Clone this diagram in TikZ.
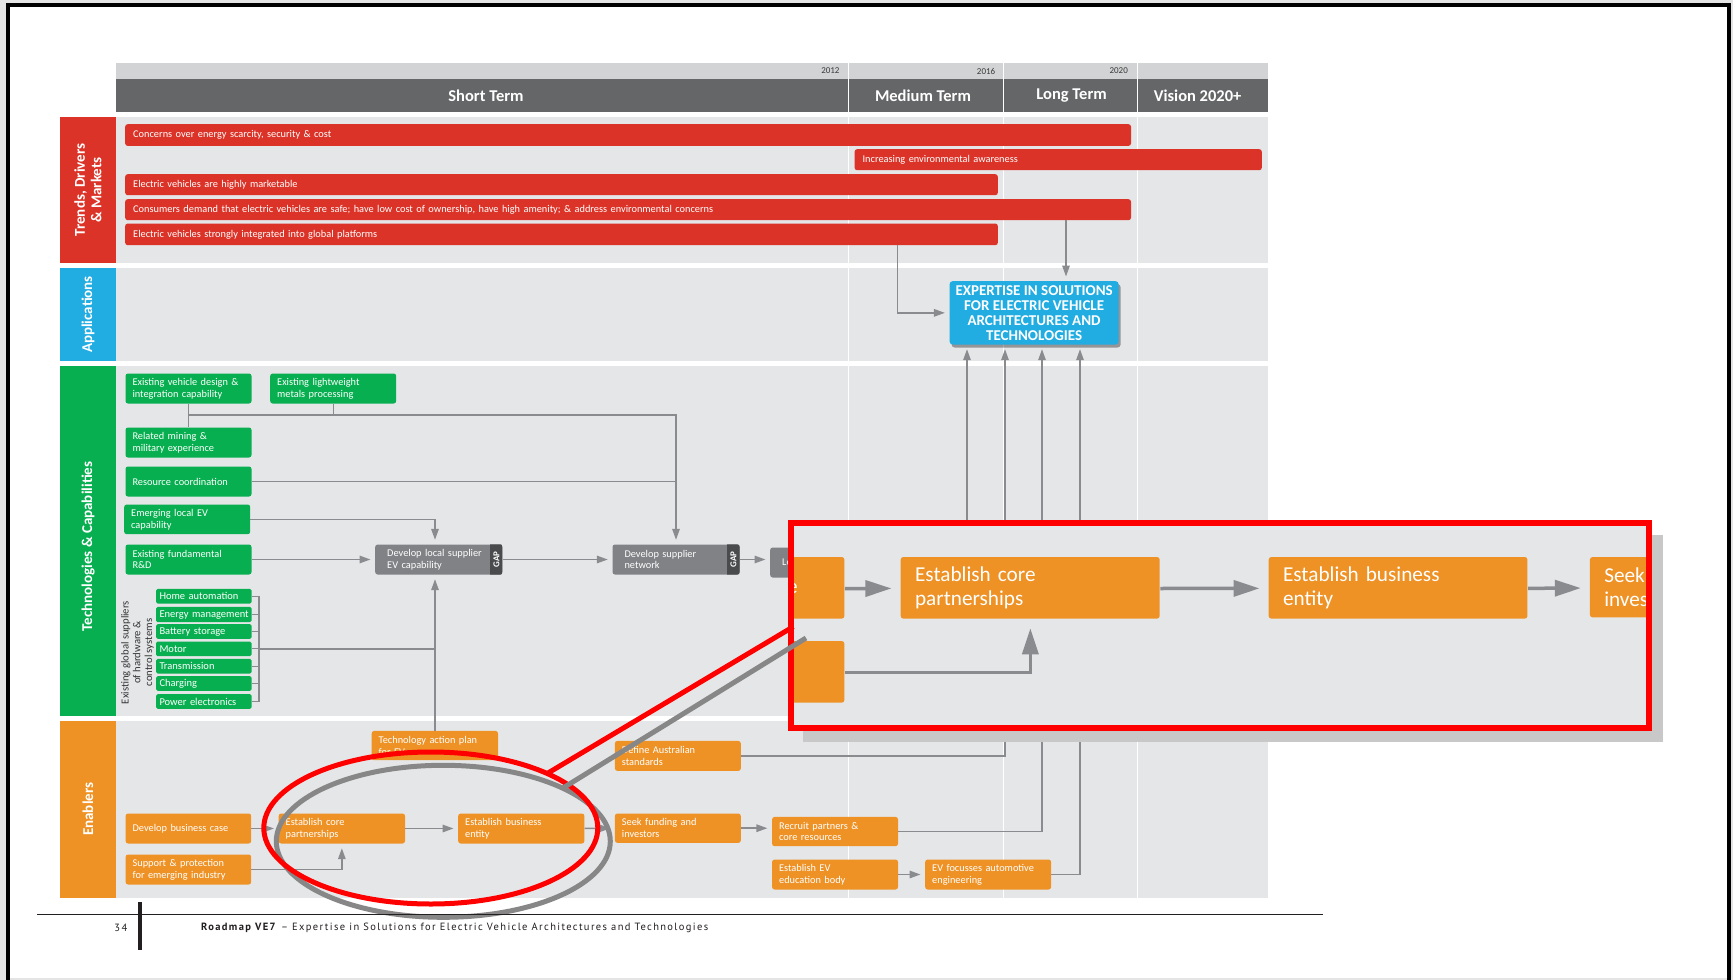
\documentclass[tikz,border=0pt]{standalone}
\usepackage{fontspec}
\setmainfont{Carlito}
\newfontfamily\footfont[LetterSpace=13]{PT Sans}
\usetikzlibrary{arrows.meta,calc,shadows}
\definecolor{lanebg}{HTML}{E5E6E8}
\definecolor{hdrlight}{HTML}{D1D3D4}
\definecolor{hdrdark}{HTML}{656668}
\definecolor{cred}{HTML}{DC3328}
\definecolor{cblue}{HTML}{21ACE2}
\definecolor{cgreen}{HTML}{07AF50}
\definecolor{corange}{HTML}{EE9226}
\definecolor{cgray}{HTML}{808285}
\definecolor{cgap}{HTML}{4A4B4D}
\definecolor{cline}{HTML}{898B8E}
\definecolor{cshadow}{HTML}{C8C8C8}
\definecolor{outerg}{HTML}{E4E4E4}
\definecolor{yrc}{HTML}{3A3A3A}
\definecolor{footc}{HTML}{231F20}
\definecolor{grayell}{HTML}{878787}
\definecolor{txtdark}{HTML}{333333}
\newcommand\myfs[2]{\fontsize{#1}{#2}\selectfont}
\def\mbxs{7}
\newcommand\mkbox[7]{%
  \pgfmathsetmacro\mbtw{#5-2*\mbxs}%
  \node[#2, anchor=north west, minimum width=#5pt, minimum height=#6pt, text width=\mbtw pt, inner xsep=\mbxs pt] (#1) at (#3,#4) {#7};}
\newcommand\gapstrip[1]{%
  \begin{scope}
    \clip[rounded corners=2.5pt] (#1.north west) rectangle (#1.south east);
    \fill[cgap] ($(#1.north east)+(-12.3,0)$) rectangle (#1.south east);
  \end{scope}
  \node[rotate=90, text=white, font=\bfseries\myfs{9}{10}, inner sep=0pt] (#1-gap) at ($(#1.east)+(-6.15,0)$) {GAP};}
\newcommand\enablersrow{%
  \mkbox{bc}{obox}{125.4}{813.3}{125.6}{30}{Develop business case}%
  \mkbox{sp}{obox}{125.4}{854.3}{125.6}{30}{Support \& protection\\for emerging industry}%
  \mkbox{cp}{obox}{278.5}{813.3}{126.3}{30}{Establish core\\partnerships}%
  \mkbox{be}{obox}{458}{813.3}{126.2}{30}{Establish business\\entity}%
  \mkbox{sf}{obox}{614.7}{813.3}{125.9}{29.4}{Seek funding and\\investors}%
  \draw[arr] (bc) -- (cp);
  \draw[arr] (cp) -- (be);
  \draw[arr] (be) -- (sf);
  \draw[arr] (sp.east) -| (cp.south);
}
\begin{document}
\begin{tikzpicture}[x=1pt,y=-1pt,
  bx/.style={rectangle, rounded corners=2.5pt, inner ysep=0pt, align=left, text=white, font=\myfs{10.35}{11.8}},
  obox/.style={bx, fill=corange},
  gbox/.style={bx, fill=cgreen},
  rbar/.style={bx, fill=cred},
  gybox/.style={bx, fill=cgray},
  hwbox/.style={bx, fill=cgreen, font=\myfs{10.5}{12}, rounded corners=1.5pt},
  conn/.style={draw=cline, line width=1.5pt},
  arr/.style={conn, -{Triangle[length=11pt,width=7.5pt]}, shorten >=4.5pt},
  lblbox/.style={rotate=90, text=white, align=center, inner sep=0pt, font=\bfseries\myfs{15}{16.5}},
  hdr/.style={text=white, font=\bfseries\myfs{16.5}{18}},
  yr/.style={text=yrc, font=\myfs{9}{10}, anchor=east, inner sep=0pt},
  bluebox/.style={anchor=north west, fill=cblue, rounded corners=3pt, minimum width=169pt, minimum height=63.3pt, text=white, align=center, font=\bfseries\myfs{15}{15}, inner sep=1pt, drop shadow={shadow xshift=2pt, shadow yshift=-3pt, opacity=0.35, fill=black}}
]
\useasboundingbox (0,0) rectangle (1733,980);
% page and frame
\fill[outerg] (0,0) rectangle (1733,980);
\fill[white] (7.7,5.3) rectangle (1729,978);
\draw[black, line width=4pt] (7.7,980) -- (7.7,5.3) -- (1729,5.3) -- (1729,980);

% header
\fill[hdrlight] (116,62.7) rectangle (1268,79);
\fill[hdrdark] (116,79) rectangle (1268,112.3);
% lanes
\fill[lanebg] (116,116.7) rectangle (1268,263.3);
\fill[lanebg] (116,268.3) rectangle (1268,360.7);
\fill[lanebg] (116,366) rectangle (1268,716);
\fill[lanebg] (116,720.7) rectangle (1268,897.7);
\foreach \xx in {848.4,1003.6,1137.2} \draw[white, line width=1.2pt] (\xx,62.7) -- (\xx,897.7);

% lane labels
\node[lblbox, fill=cred, minimum width=146.6pt, minimum height=56pt] (lTr) at (88,190) {Trends, Drivers\\\& Markets};
\node[lblbox, fill=cblue, minimum width=92.4pt, minimum height=56pt] (lAp) at (88,314.5) {Applications};
\node[lblbox, fill=cgreen, minimum width=350pt, minimum height=56pt] (lTe) at (88,541) {};
\node[lblbox] (lTeT) at (88,546.5) {Technologies \& Capabilities};
\node[lblbox, fill=corange, minimum width=177pt, minimum height=56pt] (lEn) at (88,809.2) {Enablers};

% header texts
\node[hdr] (hS) at (486,96) {Short Term};
\node[hdr] (hM) at (923,96) {Medium Term};
\node[hdr] (hL) at (1071.6,96) {Long Term};
\node[hdr] (hV) at (1197.6,96) {Vision 2020+};
\node[yr] (y12) at (839.7,71) {2012};
\node[yr] (y16) at (995.4,71) {2016};
\node[yr] (y20) at (1128,71) {2020};

% trends bars
\def\mbxs{8}
\mkbox{r1}{rbar}{125}{124}{1005.8}{21.7}{Concerns over energy scarcity, security \& cost}
\mkbox{r2}{rbar}{854.4}{149}{407.2}{21}{Increasing environmental awareness}
\mkbox{r3}{rbar}{125}{174}{872.6}{21}{Electric vehicles are highly marketable}
\mkbox{r4}{rbar}{125}{199}{1005.8}{21}{Consumers demand that electric vehicles are safe; have low cost of ownership, have high amenity; \& address environmental concerns}
\mkbox{r5}{rbar}{125}{223.3}{872.6}{21.7}{Electric vehicles strongly integrated into global platforms}
\def\mbxs{7}

% application
\node[bluebox] (exp) at (949.4,281) {EXPERTISE IN SOLUTIONS\\FOR ELECTRIC VEHICLE\\ARCHITECTURES AND\\TECHNOLOGIES};
\coordinate (xT) at (897.6,0);
\coordinate (xU) at (1066,0);
\draw[arr] (r5.south -| xT) |- (exp.west);
\draw[arr] (r4.south -| xU) -- (exp.north -| xU);

% technologies
\mkbox{vd}{gbox}{125.3}{373.3}{126}{30}{Existing vehicle design \&\\integration capability}
\mkbox{lw}{gbox}{270}{373.3}{126}{30}{Existing lightweight\\metals processing}
\mkbox{rm}{gbox}{125.3}{427.3}{126}{30}{Related mining \&\\military experience}
\mkbox{rc}{gbox}{125.3}{466.3}{126}{30}{Resource coordination}
\mkbox{el}{gbox}{124}{504.3}{126}{29.7}{Emerging local EV\\capability}
\mkbox{rd}{gbox}{125.3}{544.3}{126}{30}{Existing fundamental\\R\&D}
\def\mbxs{3.3}
\mkbox{ha}{hwbox}{156}{588.7}{95.3}{14.6}{\mbox{Home automation}}
\mkbox{em}{hwbox}{156}{606.7}{95.3}{15.3}{\mbox{Energy management}}
\mkbox{bs}{hwbox}{156}{624}{95.3}{14.7}{\mbox{Battery storage}}
\mkbox{mo}{hwbox}{156}{641.3}{95.3}{14.7}{\mbox{Motor}}
\mkbox{tr}{hwbox}{156}{658.7}{95.3}{14.6}{\mbox{Transmission}}
\mkbox{ch}{hwbox}{156}{676}{95.3}{14.7}{\mbox{Charging}}
\mkbox{pe}{hwbox}{156}{694}{95.3}{14.7}{\mbox{Power electronics}}
\def\mbxs{12}
\mkbox{dl}{gybox}{375}{544.3}{127.3}{30}{Develop local supplier\\EV capability}
\mkbox{sn}{gybox}{612.3}{544.3}{127}{30}{Develop supplier\\network}
\mkbox{lo}{gybox}{770}{547.3}{127}{30}{Lo}
\def\mbxs{7}
\gapstrip{dl}
\gapstrip{sn}
\node[rotate=90, align=center, text=txtdark, font=\myfs{10.7}{11.8}] (hwlbl) at (137.5,652.5) {Existing global suppliers\\of hardware \&\\control systems};

\coordinate (j1) at (188.3,415);
\coordinate (j2) at (sn.north |- j1);
\coordinate (j3) at (333.3,415);
\coordinate (v1) at (435,0);
\coordinate (bk) at (259,0);
\draw[conn] (vd.south -| j1) -- (rm.north -| j1);
\draw[conn] (lw.south -| j3) -- (j3);
\draw[arr] (j1) -- (j2) -- (sn.north);
\draw[conn] (rc.east) -- (rc.east -| j2);
\draw[arr] (el.east) -| (dl.north -| v1);
\draw[arr] (rd.east) -- (dl.west);
\foreach \n in {ha,em,bs,mo,tr,ch,pe} \draw[conn, line width=1.2pt] (\n.east) -- (\n.east -| bk);
\draw[conn, line width=1.2pt] (ha.east -| bk) -- (pe.east -| bk);
\draw[conn] (mo.east -| bk) -- (mo.east -| v1);
\draw[arr] (dl.east) -- (sn.west);
\draw[arr] (sn.east) -- (sn.east -| lo.west);

% enablers
\enablersrow
\mkbox{tap}{obox}{371.5}{730.7}{126.3}{29.3}{Technology action plan\\for EV}
\mkbox{da}{obox}{614.7}{740.7}{125.9}{30}{Define Australian\\standards}
\mkbox{rp}{obox}{771.9}{816.7}{125.9}{29.3}{Recruit partners \&\\core resources}
\mkbox{ee}{obox}{771.9}{859.3}{125.9}{30}{Establish EV\\education body}
\mkbox{ef}{obox}{925}{859.3}{125.9}{30}{EV focusses automotive\\engineering}
\draw[arr] (tap.north -| v1) -- (dl.south -| v1);
\draw[arr] (sf.east) -- (sf.east -| rp.west);
\draw[arr] (ee) -- (ef);
\coordinate (xA) at (967,0);
\coordinate (xB) at (1005,0);
\coordinate (xC) at (1042,0);
\coordinate (xD) at (1080,0);
\draw[arr] (lo.east) -| (exp.south -| xA);
\draw[arr] (da.east) -| (exp.south -| xB);
\draw[arr] (rp.east) -| (exp.south -| xC);
\draw[arr] (ef.east) -| (exp.south -| xD);

% magnifier ellipses
\draw[grayell, line width=5pt] (443.3,841.3) ellipse [x radius=167pt, y radius=76pt];
\draw[red, line width=5pt] (430.8,828) ellipse [x radius=167pt, y radius=76pt];

% callout
\fill[cshadow] (803,535) rectangle (1663,742);
\fill[lanebg] (790.6,522.5) rectangle (1648.8,728);
\begin{scope}
  \clip (794,525.7) rectangle (1646,725.3);
  \begin{scope}[shift={(329.4,-1110.6)}, scale=2.05, transform shape, name prefix=m-,
      conn/.style={draw=cline, line width=3.5pt},
      arr/.style={conn, -{Triangle[length=26pt,width=16pt]}, shorten >=9pt}]
    \enablersrow
  \end{scope}
\end{scope}
\draw[red, line width=6pt] (790.6,522.5) rectangle (1648.8,728);
\draw[grayell, line width=5pt] (563,788) -- (806,638);
\draw[red, line width=5pt] (547.5,773.3) -- (793.3,626.7);

% footer
\draw[footc, line width=1.3pt] (37,914.3) -- (1323,914.3);
\draw[footc, line width=4pt] (139.5,902) -- (139.5,950);
\node[anchor=east, font=\footfont\myfs{10.5}{12}, text=footc, inner sep=0pt] (pgno) at (127.5,928) {34};
\node[anchor=west, font=\footfont\myfs{10.5}{12}, text=footc, inner sep=0pt] (foot) at (201,928) {\textbf{Roadmap VE7} – Expertise in Solutions for Electric Vehicle Architectures and Technologies};
\end{tikzpicture}
\end{document}
